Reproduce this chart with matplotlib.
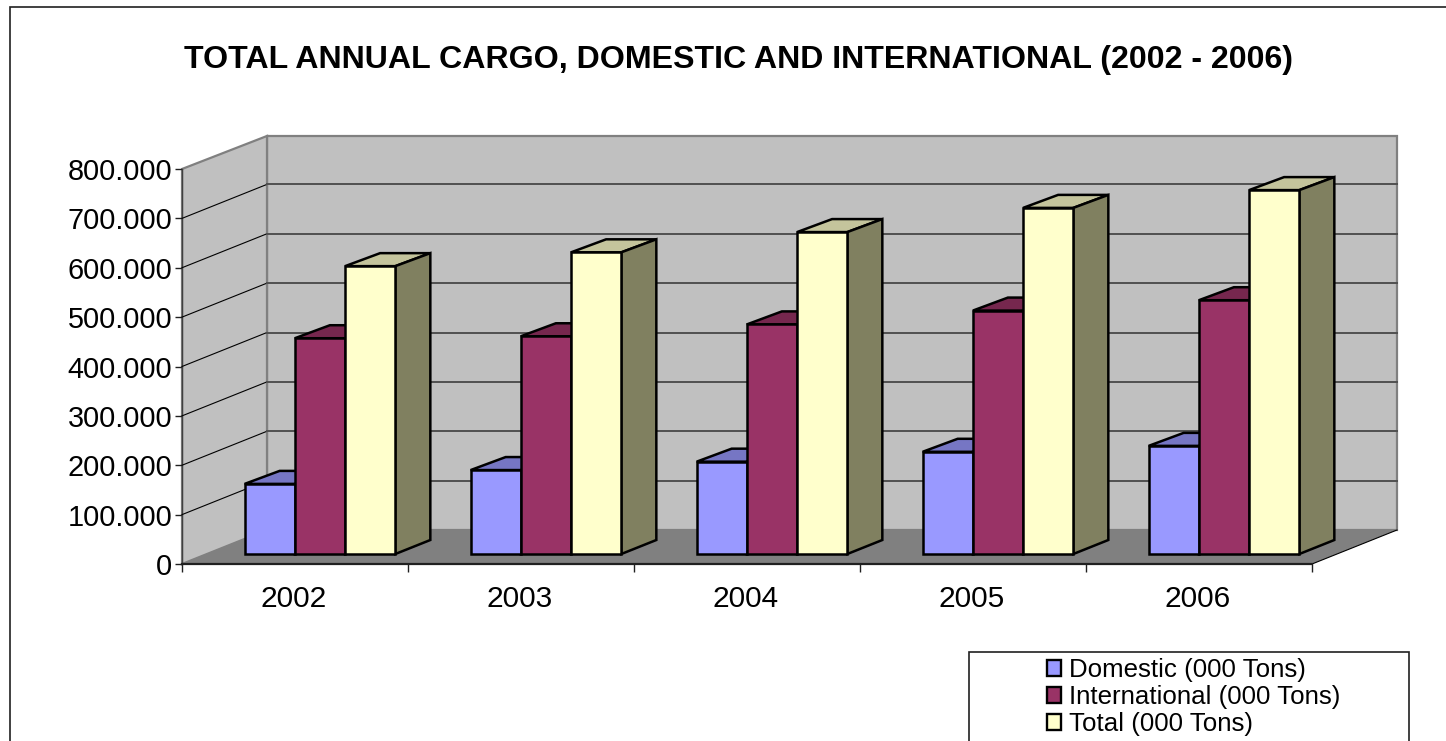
import matplotlib
matplotlib.use('Agg')
import matplotlib.pyplot as plt
from matplotlib.patches import Polygon, Patch, Rectangle

plt.rcParams['font.family'] = ['Liberation Sans', 'DejaVu Sans']

years = ['2002', '2003', '2004', '2005', '2006']
domestic = [142, 170, 187, 207, 219]
international = [437, 441, 465, 493, 514]
total = [583, 611, 652, 701, 737]
series_names = ['Domestic (000 Tons)', 'International (000 Tons)', 'Total (000 Tons)']
y_ticks = [0, 100, 200, 300, 400, 500, 600, 700, 800]
y_labels = ['0', '100.000', '200.000', '300.000', '400.000', '500.000', '600.000', '700.000', '800.000']

front_colors = ['#9999FF', '#993366', '#FFFFCC']
top_colors = ['#7676C4', '#76274E', '#C4C49C']
side_colors = ['#4D4D80', '#4D1A33', '#808060']

# depth of the fake 3d box, in data units
depth_x = 85 / 226
depth_y = 34 / 0.49375
bar_w = 1 / 4.5
gap = bar_w * 0.75
z_front = 10 / 34
z_back = 24 / 34

W, H = 1446, 741
fig = plt.figure(figsize=(W / 100, H / 100), dpi=100)
ax = fig.add_axes([182 / W, 1 - 564 / H, 1130 / W, 395 / H])
ax.set_xlim(0, 5)
ax.set_ylim(0, 800)
ax.patch.set_alpha(0)


def poly(pts, color, edge='none', lw=0, z=1):
    ax.add_patch(Polygon(pts, closed=True, facecolor=color, edgecolor=edge, linewidth=lw,
                         zorder=z, clip_on=False, joinstyle='miter'))


def bar3d(x, v, i, z):
    x0 = x + depth_x * z_front
    x1 = x0 + bar_w
    y0 = depth_y * z_front
    y1 = y0 + v
    dx = depth_x * (z_back - z_front)
    dy = depth_y * (z_back - z_front)
    dy_top = dy * 13 / 14
    poly([(x0, y1), (x1, y1), (x1 + dx, y1 + dy_top), (x0 + dx, y1 + dy_top)], top_colors[i], 'black', 1.8, z)
    poly([(x1, y0), (x1 + dx, y0 + dy), (x1 + dx, y1 + dy_top), (x1, y1)], side_colors[i], 'black', 1.8, z)
    poly([(x0, y0), (x1, y0), (x1, y1), (x0, y1)], front_colors[i], 'black', 1.8, z)


# walls and floor
poly([(depth_x, depth_y), (5 + depth_x, depth_y), (5 + depth_x, 798 + depth_y), (depth_x, 798 + depth_y)],
     '#C0C0C0', '#808080', 1.6, 1)
poly([(0, 0), (depth_x, depth_y), (depth_x, 798 + depth_y), (0, 800)], '#C0C0C0', '#808080', 1.6, 1)
poly([(0, 0), (5, 0), (5 + depth_x, depth_y), (depth_x, depth_y)], '#808080', z=2)

for t in y_ticks[1:-1]:
    ax.plot([0, depth_x], [t, t + depth_y], color='black', lw=0.8, zorder=3, clip_on=False)
    ax.plot([depth_x, 5 + depth_x], [t + depth_y, t + depth_y], color='#505050', lw=1.4, zorder=3, clip_on=False)
ax.plot([5, 5 + depth_x], [0, depth_y], color='black', lw=0.8, zorder=3, clip_on=False)

for k in range(len(years)):
    for i, vals in enumerate([domestic, international, total]):
        bar3d(k + gap + i * bar_w, vals[k], i, 10 + k * 3 + i)

# axes
for s in ['top', 'right']:
    ax.spines[s].set_visible(False)
ax.spines['left'].set_color('#404040')
ax.spines['left'].set_linewidth(1)
ax.spines['bottom'].set_color('#202020')
ax.spines['bottom'].set_linewidth(1.6)
ax.spines['bottom'].set_zorder(5)
ax.set_yticks(y_ticks)
ax.set_yticklabels(y_labels, fontsize=20.8)
ax.tick_params(axis='y', length=5, width=1, pad=2, color='#202020')
ax.set_xticks(range(6))
ax.set_xticklabels([])
ax.tick_params(axis='x', length=6, width=1, color='#202020')
ax.set_xticks([k + 0.495 for k in range(5)], minor=True)
ax.set_xticklabels(years, minor=True, fontsize=21.5)
ax.tick_params(axis='x', which='minor', length=0, pad=15)

fig.text(738 / W, 1 - 60 / H, 'TOTAL ANNUAL CARGO, DOMESTIC AND INTERNATIONAL (2002 - 2006)',
         fontsize=23.1, fontweight='bold', ha='center', va='center')

# outer frame and legend box run off the bottom and right of the image
fig.add_artist(Rectangle((9.5 / W, -0.1), 1.1, 1.1 - 7.5 / H, transform=fig.transFigure,
                         fill=False, edgecolor='#202020', linewidth=1.2))
fig.add_artist(Rectangle((969 / W, -0.1), 440 / W, 0.1 + 1 - 652 / H, transform=fig.transFigure,
                         facecolor='white', edgecolor='#202020', linewidth=1.2))
handles = [Patch(facecolor=c, edgecolor='black', linewidth=1.7) for c in front_colors]
leg = fig.legend(handles, series_names, loc='upper left', bbox_to_anchor=(1047 / W, 1 - 658 / H),
                 frameon=False, fontsize=18.6, handlelength=0.55, handleheight=0.55, handletextpad=0.32,
                 labelspacing=0.12, borderaxespad=0, borderpad=0)
leg.set_zorder(10)

fig.savefig('out.png', dpi=100)
